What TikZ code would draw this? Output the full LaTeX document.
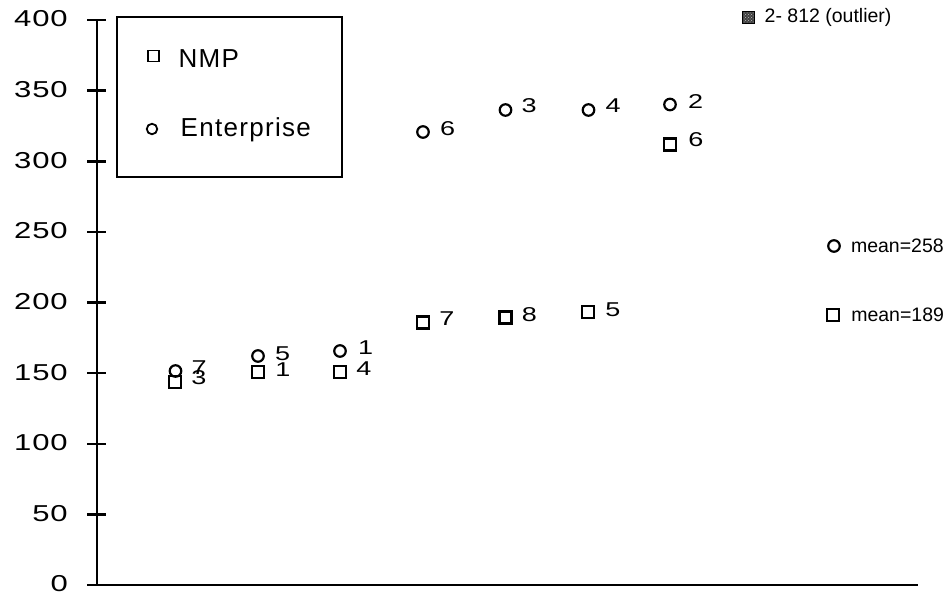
\documentclass[tikz,border=0pt]{standalone}
\usepackage{fontspec}
\setmainfont{Liberation Sans}
\newfontfamily\axisfont[LetterSpace=3]{Liberation Sans}
\newfontfamily\legfont[LetterSpace=5]{Liberation Sans}
\usetikzlibrary{positioning,patterns}
\newcommand{\widenum}[1]{\scalebox{1.35}[1]{#1}}

\begin{document}
\begin{tikzpicture}[
    x=1pt,y=-1pt,
    nmp/.style={draw,rectangle,line width=2.2pt,minimum size=12pt,inner sep=0pt},
    ent/.style={draw,circle,line width=2.2pt,minimum size=11.5pt,inner sep=0pt},
    num/.style={font=\fontsize{20}{22}\selectfont,inner sep=0pt},
    meantxt/.style={font=\fontsize{19.5}{21}\selectfont,inner sep=0pt},
    legtxt/.style={font=\legfont\fontsize{26}{28}\selectfont,inner sep=0pt,anchor=west},
    ylab/.style={font=\axisfont\fontsize{23}{25}\selectfont,inner sep=0pt,anchor=east}
  ]
  \useasboundingbox (0,0) rectangle (951,595);

  % axes
  \draw[line width=2.5pt] (97,20) -- (97,585);
  \draw[line width=2.5pt] (87,585) -- (918,585);
  \foreach \v in {0,50,...,400}{
    \draw[line width=2.5pt] (87,{585-\v*1.4125}) -- (106,{585-\v*1.4125});
    \node[ylab] (ylab\v) at (68,{584-\v*1.4125}) {\widenum{\v}};
  }

  % legend
  \node[draw,line width=2pt,minimum width=225pt,minimum height=160pt,inner sep=0pt] (legend) at (229.5,97) {};
  \node[nmp,line width=1.8pt,minimum size=11pt] (lnmp) at (153.5,56) {};
  \node[legtxt] (lnmptxt) at (178.5,59) {NMP};
  \node[ent,line width=1.8pt,minimum size=10.5pt] (lent) at (152,129) {};
  \node[legtxt] (lenttxt) at (180.5,130) {Enterprise};

  % outlier
  \node[nmp,line width=1pt,minimum size=12pt,preaction={fill=black!75},
        pattern=crosshatch dots,pattern color=black!25] (outl) at (748,17.5) {};
  \node[font=\fontsize{19.5}{21}\selectfont,inner sep=0pt,right=10pt of outl] (outltxt) {2- 812 (outlier)};

  % enterprise sites
  \node[ent] (e1) at (175.5,371) {};
  \node[ent] (e2) at (258,356) {};
  \node[ent] (e3) at (340,351) {};
  \node[ent] (e4) at (423,132) {};
  \node[ent] (e5) at (505.5,110) {};
  \node[ent] (e6) at (588.5,110) {};
  \node[ent] (e7) at (670,104.5) {};
  \node[ent] (e8) at (834,246) {};

  % nmp sites
  \node[nmp] (n1) at (175,382) {};
  \node[nmp] (n2) at (258,372) {};
  \node[nmp] (n3) at (340,372) {};
  \node[nmp] (n4) at (423,322.5) {};
  \node[nmp] (n5) at (505.5,317.5) {};
  \node[nmp] (n6) at (588,312) {};
  \node[nmp] (n7) at (670,144.5) {};
  \node[nmp] (n8) at (833,315) {};

  % site numbers
  \node[num,right=9pt of e1,yshift=3pt] (e1n) {\widenum{7}};
  \node[num,right=10pt of e2,yshift=2pt] (e2n) {\widenum{5}};
  \node[num,right=11pt of e3,yshift=3pt] (e3n) {\widenum{1}};
  \node[num,right=10pt of e4,yshift=3pt] (e4n) {\widenum{6}};
  \node[num,right=9pt of e5,yshift=4pt] (e5n) {\widenum{3}};
  \node[num,right=10pt of e6,yshift=4pt] (e6n) {\widenum{4}};
  \node[num,right=11pt of e7,yshift=2.5pt] (e7n) {\widenum{2}};
  \node[meantxt,right=10pt of e8] (e8n) {mean=258};

  \node[num,right=9pt of n1,yshift=4pt] (n1n) {\widenum{3}};
  \node[num,right=10pt of n2,yshift=2pt] (n2n) {\widenum{1}};
  \node[num,right=9pt of n3,yshift=3pt] (n3n) {\widenum{4}};
  \node[num,right=9pt of n4,yshift=4pt] (n4n) {\widenum{7}};
  \node[num,right=9pt of n5,yshift=2.5pt] (n5n) {\widenum{8}};
  \node[num,right=10pt of n6,yshift=2pt] (n6n) {\widenum{5}};
  \node[num,right=11pt of n7,yshift=5pt] (n7n) {\widenum{6}};
  \node[meantxt,right=11pt of n8] (n8n) {mean=189};
\end{tikzpicture}
\end{document}
